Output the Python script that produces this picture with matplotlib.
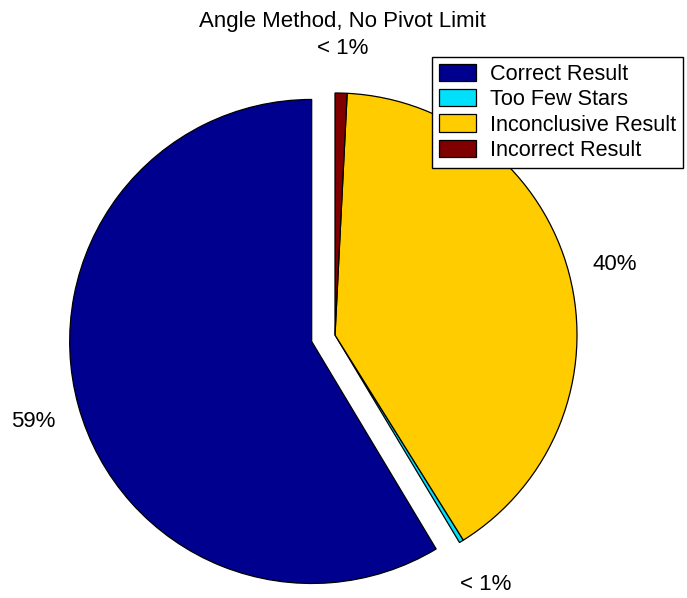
import numpy as np
import matplotlib
matplotlib.use("Agg")
import matplotlib.pyplot as plt

plt.rcParams['font.family'] = ['Liberation Sans', 'DejaVu Sans']

categories = ["Correct Result", "Too Few Stars", "Inconclusive Result", "Incorrect Result"]
shares = [58.6, 0.3, 40.3, 0.8]
pct_labels = ["59%", "< 1%", "40%", "< 1%"]
explode = [0.1, 0, 0, 0]
colors = ["#00008F", "#00E0FA", "#FFCC00", "#800000"]

fs = 16.0

fig = plt.figure(figsize=(6.87, 5.98), dpi=100)
ax = fig.add_axes([0, 0, 1, 1])

wedges, texts = ax.pie(shares, explode=explode, colors=colors, startangle=90,
                       counterclock=True, labels=pct_labels, labeldistance=1.195,
                       wedgeprops=dict(edgecolor="black", linewidth=0.9),
                       textprops=dict(fontsize=fs))
for t in texts:
    t.set_horizontalalignment("center")
    t.set_verticalalignment("center_baseline")

# map unit pie to pixel layout of the reference
W, H = 687, 598
r_px = 242.0
cx, cy = 335.0, 335.0
ax.set_xlim(-cx / r_px, (W - cx) / r_px)
ax.set_ylim(-(H - cy) / r_px, cy / r_px)
ax.set_aspect("auto")
ax.axis("off")

fig.text(342 / W, 1 - 22 / H, "Angle Method, No Pivot Limit", ha="center", va="center", fontsize=fs)

leg = ax.legend(wedges, categories, loc="upper left", bbox_to_anchor=(432 / W, 1 - 57 / H),
                bbox_transform=fig.transFigure, fontsize=15.6, frameon=True, fancybox=False,
                edgecolor="black", framealpha=1, borderpad=0.3, labelspacing=0.2,
                handlelength=1.75, handleheight=0.85, handletextpad=0.65, borderaxespad=0)
leg.get_frame().set_linewidth(1.0)

fig.savefig("out.png", dpi=100)
